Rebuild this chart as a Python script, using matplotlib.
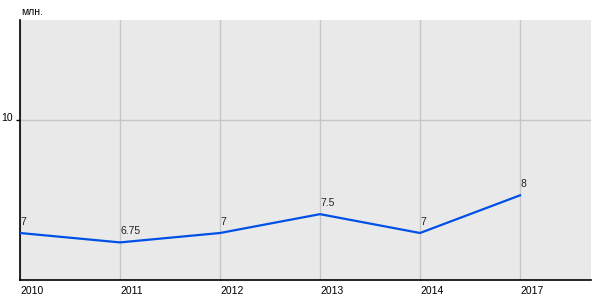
import matplotlib
matplotlib.use("Agg")
import matplotlib.pyplot as plt
import matplotlib.transforms as mtransforms

years = ["2010", "2011", "2012", "2013", "2014", "2017"]
values = [7, 6.75, 7, 7.5, 7, 8]
labels = ["7", "6.75", "7", "7.5", "7", "8"]
yticks = [10]
unit = "млн."

plt.rcParams['font.family'] = ['Liberation Sans', 'DejaVu Sans']

fig = plt.figure(figsize=(6, 3), dpi=100)
ax = fig.add_axes([20/600, 20/300, 571/600, 260/300])
ax.set_facecolor("#e9e9e9")

xs = list(range(len(years)))
ax.plot(xs, values, color="#0050e6", lw=1.6, solid_joinstyle="round", zorder=3)
for x, v, t in zip(xs, values, labels):
    ax.annotate(t, (x, v), xytext=(0.5, 4.5), textcoords="offset points",
                ha="left", va="bottom", fontsize=7.5, color="#222222", zorder=4)

ax.set_xlim(0, 5.71)
ax.set_ylim(5.752, 12.655)
ax.set_xticks(xs)
ax.set_xticklabels(years, ha="left", fontsize=7.5)
ax.set_yticks(yticks)
ax.set_yticklabels([str(t) for t in yticks], fontsize=7.5)
ax.tick_params(axis="x", length=0, pad=4)
ax.tick_params(axis="y", length=3, width=1, pad=2)
off = mtransforms.ScaledTranslation(0, 2.5/72, fig.dpi_scale_trans)
for lab in ax.get_yticklabels():
    lab.set_transform(lab.get_transform() + off)
ax.grid(True, color="#c6c6c6", lw=1)
ax.set_axisbelow(True)
for s in ["top", "right"]:
    ax.spines[s].set_visible(False)
for s in ["left", "bottom"]:
    ax.spines[s].set_color("black")
    ax.spines[s].set_linewidth(1.2)

fig.text(21/600, 1 - 12/300, unit, fontsize=7.5, ha="left", va="center")
fig.savefig("out.png", dpi=100, facecolor="white")
